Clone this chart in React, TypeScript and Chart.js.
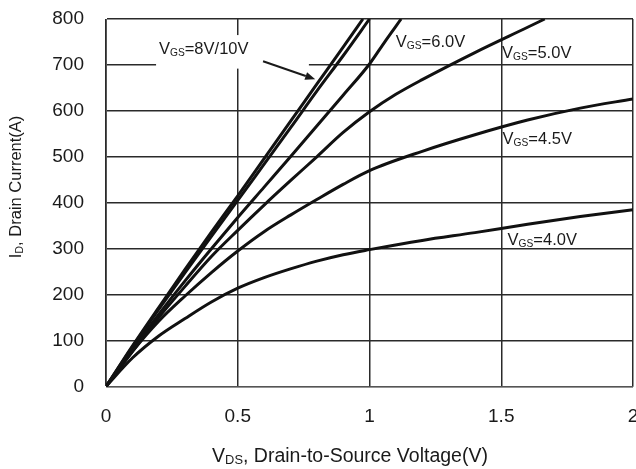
import React, { useEffect, useRef } from "react";
import { Chart, registerables } from "chart.js";

Chart.register(...registerables);

const FONT = '"Liberation Sans", Arial, Helvetica, sans-serif';

// Output characteristics: drain current (A) vs drain-to-source voltage (V)
const VDS_10V = [0, 0.1, 0.2, 0.3, 0.4, 0.5, 0.6, 0.7, 0.8, 0.9, 0.975];
const ID_10V = [0, 88, 172, 255, 336, 415, 496, 577, 658, 739, 800];

const VDS_8V = [0, 0.1, 0.2, 0.3, 0.4, 0.5, 0.6, 0.7, 0.8, 0.9, 1.0];
const ID_8V = [0, 86, 168, 248, 327, 405, 484, 563, 643, 720, 800];

const VDS_6V = [0, 0.1, 0.2, 0.3, 0.4, 0.5, 0.6, 0.7, 0.8, 0.9, 1.0, 1.06, 1.12];
const ID_6V = [0, 80, 157, 230, 300, 368, 434, 500, 567, 634, 702, 752, 800];

const VDS_5V = [0, 0.1, 0.2, 0.3, 0.4, 0.5, 0.6, 0.7, 0.8, 0.9, 1.0, 1.1, 1.2, 1.4, 1.6, 1.665];
const ID_5V = [0, 76, 150, 218, 283, 340, 395, 448, 500, 553, 598, 636, 668, 727, 782, 800];

const VDS_45V = [0, 0.1, 0.2, 0.3, 0.4, 0.5, 0.6, 0.7, 0.8, 0.9, 1.0, 1.2, 1.4, 1.6, 1.8, 2.0];
const ID_45V = [0, 76, 142, 197, 248, 295, 337, 373, 407, 440, 470, 512, 548, 580, 606, 626];

const VDS_4V = [0, 0.1, 0.2, 0.3, 0.4, 0.5, 0.6, 0.7, 0.8, 0.9, 1.0, 1.2, 1.4, 1.6, 1.8, 2.0];
const ID_4V = [0, 62, 110, 148, 184, 214, 237, 256, 273, 287, 298, 318, 335, 353, 370, 385];

const SERIES_X = [VDS_10V, VDS_8V, VDS_6V, VDS_5V, VDS_45V, VDS_4V];
const SERIES_Y = [ID_10V, ID_8V, ID_6V, ID_5V, ID_45V, ID_4V];
const SERIES_NAMES = ["10V", "8V", "6.0V", "5.0V", "4.5V", "4.0V"];

// Axis ranges and tick steps
const X_MIN = 0;
const X_MAX = 2;
const X_STEP = 0.5;
const Y_MIN = 0;
const Y_MAX = 800;
const Y_STEP = 100;

// Curve labels: suffix after "=", x value of left edge, y value of vertical centre
const LABEL_TEXT = ["8V/10V", "6.0V", "5.0V", "4.5V", "4.0V"];
const LABEL_X = [0.201, 1.1, 1.503, 1.505, 1.524];
const LABEL_Y = [736, 751, 727, 540, 322];

// Pointer from the 8V/10V label to its curves: [x0, y0, x1, y1]
const POINTER = [0.596, 708, 0.794, 669];
// Blank panel behind the 8V/10V label: [xLeft, yTop, xRight, yBottom]
const LABEL_PANEL = [0.19, 765, 0.77, 692];

type Part = { t: string; sub?: boolean };

function drawRich(
  ctx: CanvasRenderingContext2D,
  parts: Part[],
  x: number,
  yMid: number,
  size: number,
  align: "left" | "center",
  subRatio = 0.62
) {
  ctx.save();
  ctx.textAlign = "left";
  ctx.textBaseline = "alphabetic";
  const fontFor = (p: Part) => `${p.sub ? size * subRatio : size}px ${FONT}`;
  let total = 0;
  for (const p of parts) {
    ctx.font = fontFor(p);
    total += ctx.measureText(p.t).width;
  }
  let cx = align === "center" ? x - total / 2 : x;
  const base = yMid + size * 0.36;
  for (const p of parts) {
    ctx.font = fontFor(p);
    ctx.fillText(p.t, cx, p.sub ? base + size * 0.12 : base);
    cx += ctx.measureText(p.t).width;
  }
  ctx.restore();
}

const annotations = {
  id: "annotations",
  beforeDatasetsDraw(chart: any) {
    const { ctx, scales } = chart;
    const xs = scales.x;
    const ys = scales.y;
    const l = xs.getPixelForValue(LABEL_PANEL[0]);
    const t = ys.getPixelForValue(LABEL_PANEL[1]);
    const r = xs.getPixelForValue(LABEL_PANEL[2]);
    const b = ys.getPixelForValue(LABEL_PANEL[3]);
    ctx.save();
    ctx.fillStyle = "#ffffff";
    ctx.fillRect(l, t, r - l, b - t);
    ctx.restore();
  },
  afterDatasetsDraw(chart: any) {
    const { ctx, scales } = chart;
    const xs = scales.x;
    const ys = scales.y;
    ctx.save();
    ctx.fillStyle = "#1a1a1a";

    // curve labels
    for (let i = 0; i < LABEL_TEXT.length; i++) {
      drawRich(
        ctx,
        [{ t: "V" }, { t: "GS", sub: true }, { t: "=" + LABEL_TEXT[i] }],
        xs.getPixelForValue(LABEL_X[i]),
        ys.getPixelForValue(LABEL_Y[i]),
        16.5,
        "left"
      );
    }

    // pointer arrow
    const x0 = xs.getPixelForValue(POINTER[0]);
    const y0 = ys.getPixelForValue(POINTER[1]);
    const x1 = xs.getPixelForValue(POINTER[2]);
    const y1 = ys.getPixelForValue(POINTER[3]);
    const ang = Math.atan2(y1 - y0, x1 - x0);
    const head = 10;
    const hx = x1 - head * Math.cos(ang);
    const hy = y1 - head * Math.sin(ang);
    ctx.strokeStyle = "#1a1a1a";
    ctx.lineWidth = 2;
    ctx.beginPath();
    ctx.moveTo(x0, y0);
    ctx.lineTo(hx, hy);
    ctx.stroke();
    ctx.beginPath();
    ctx.moveTo(x1, y1);
    ctx.lineTo(hx + 4 * Math.sin(ang), hy - 4 * Math.cos(ang));
    ctx.lineTo(hx - 4 * Math.sin(ang), hy + 4 * Math.cos(ang));
    ctx.closePath();
    ctx.fill();

    // axis titles
    drawRich(
      ctx,
      [{ t: "V" }, { t: "DS", sub: true }, { t: ", Drain-to-Source Voltage(V)" }],
      350,
      455,
      19.5,
      "center",
      0.66
    );
    ctx.translate(15, 187);
    ctx.rotate(-Math.PI / 2);
    drawRich(
      ctx,
      [{ t: "I" }, { t: "D", sub: true }, { t: ", Drain Current(A)" }],
      0,
      0,
      16.5,
      "center",
      0.66
    );
    ctx.restore();
  },
};

export default function App() {
  const canvasRef = useRef<HTMLCanvasElement | null>(null);

  useEffect(() => {
    const canvas = canvasRef.current;
    if (!canvas) return;

    const datasets = SERIES_X.map((xs, i) => ({
      label: "VGS=" + SERIES_NAMES[i],
      data: xs.map((x, j) => ({ x, y: SERIES_Y[i][j] })),
      borderColor: "#111111",
      backgroundColor: "#111111",
      borderWidth: 3,
      pointRadius: 0,
      cubicInterpolationMode: "monotone" as const,
      fill: false,
    }));

    const chart = new Chart(canvas, {
      type: "line",
      data: { datasets },
      plugins: [annotations],
      options: {
        responsive: false,
        animation: false,
        events: [],
        layout: { padding: { left: 0, top: 19, right: 3, bottom: 0 } },
        plugins: {
          legend: { display: false },
          tooltip: { enabled: false },
          title: { display: false },
        },
        scales: {
          x: {
            type: "linear",
            min: X_MIN,
            max: X_MAX,
            ticks: {
              stepSize: X_STEP,
              padding: 19,
              color: "#1a1a1a",
              font: { family: FONT, size: 19 },
              callback: (v: any) => String(Number(v)),
            },
            grid: { color: "#2a2a2a", lineWidth: 1.5, drawTicks: false },
            border: { display: true, color: "#555555", width: 1 },
            afterFit(scale: any) {
              scale.height = 469 - 386.5;
              scale.paddingLeft = 0;
              scale.paddingRight = 0;
            },
          },
          y: {
            type: "linear",
            min: Y_MIN,
            max: Y_MAX,
            ticks: {
              stepSize: Y_STEP,
              padding: 22,
              color: "#1a1a1a",
              font: { family: FONT, size: 19 },
              callback: (v: any) => String(Number(v)),
            },
            grid: { color: "#2a2a2a", lineWidth: 1.5, drawTicks: false },
            border: { display: true, color: "#555555", width: 1 },
            afterFit(scale: any) {
              scale.width = 106;
              scale.paddingTop = 0;
              scale.paddingBottom = 0;
            },
          },
        },
      },
    });

    return () => chart.destroy();
  }, []);

  return (
    <div
      style={{
        position: "fixed",
        left: 0,
        top: 0,
        width: 636,
        height: 469,
        background: "#ffffff",
      }}
    >
      <canvas ref={canvasRef} width={636} height={469} style={{ display: "block" }} />
    </div>
  );
}
